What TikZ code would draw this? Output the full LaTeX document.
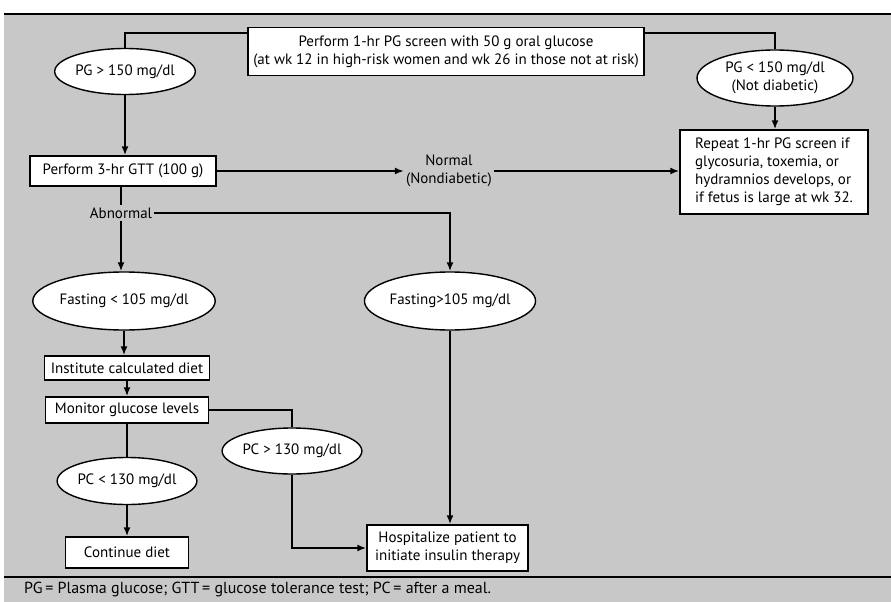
\documentclass[tikz,border=0pt]{standalone}
\usepackage{fontspec}
\setmainfont{PT Sans}
\usetikzlibrary{shapes.geometric,arrows.meta}
\definecolor{bggray}{RGB}{200,200,200}
\begin{document}
\begin{tikzpicture}[x=1pt,y=-1pt,
  every node/.style={font=\fontsize{15}{18}\selectfont},
  box/.style={draw, fill=white, line width=1.4pt, inner sep=0pt, align=center},
  oval/.style={ellipse, draw, fill=white, line width=1.4pt, inner sep=0pt, align=center},
  conn/.style={line width=1.8pt},
  arr/.style={conn, -{Latex[length=9pt,width=7pt]}},
  plain/.style={inner sep=2pt, align=center}]
\useasboundingbox (0,0) rectangle (891,602);
\fill[white] (0,0) rectangle (891,602);
\fill[bggray] (4,14) rectangle (891,602);
\draw[line width=2.4pt] (4,14) -- (891,14);
\draw[line width=2.2pt] (4,577) -- (891,577);

\node[box, minimum width=396pt, minimum height=48pt] (top) at (446,51.5)
  {Perform 1-hr PG screen with 50 g oral glucose\\(at wk 12 in high-risk women and wk 26 in those not at risk)};
\node[oval, minimum width=128pt, minimum height=46pt] (pg150) at (125,71.5) {PG > 150 mg/dl};
\node[oval, minimum width=156pt, minimum height=56pt] (pglt) at (775,78) {PG < 150 mg/dl\\(Not diabetic)};
\node[box, minimum width=186pt, minimum height=30pt] (gtt) at (123,171) {Perform 3-hr GTT (100 g)};
\node[plain] (normal) at (449,171) {Normal\\(Nondiabetic)};
\node[box, minimum width=188pt, minimum height=84pt, align=left] (repeat) at (774,172)
  {Repeat 1-hr PG screen if\\glycosuria, toxemia, or\\hydramnios develops, or\\if fetus is large at wk 32.};
\node[plain] (abn) at (121,213) {Abnormal};
\node[oval, minimum width=157pt, minimum height=58pt] (flt) at (124,301) {Fasting < 105 mg/dl};
\node[oval, minimum width=160pt, minimum height=58pt] (fgt) at (450,301) {Fasting>105 mg/dl};
\node[box, minimum width=165pt, minimum height=24pt] (inst) at (127,368) {Institute calculated diet};
\node[box, minimum width=163pt, minimum height=26pt] (mon) at (127,410) {Monitor glucose levels};
\node[oval, minimum width=128pt, minimum height=46pt] (pcgt) at (292,451) {PC > 130 mg/dl};
\node[oval, minimum width=129pt, minimum height=47pt] (pclt) at (127,481) {PC < 130 mg/dl};
\node[box, minimum width=123pt, minimum height=31pt] (cont) at (127,552.5) {Continue diet};
\node[box, minimum width=161pt, minimum height=46pt] (hosp) at (447.5,548) {Hospitalize patient to\\initiate insulin therapy};
\node[anchor=west, inner sep=0pt, font=\fontsize{16}{18}\selectfont] (foot) at (24,589) {PG\,= Plasma glucose; GTT\,= glucose tolerance test; PC\,= after a meal.};

\draw[conn] ([yshift=-6pt]top.north west) -| (pg150.north);
\draw[conn] ([yshift=-6pt]top.north east) -| (pglt.north);
\draw[arr] (pg150.south) -- (pg150.south |- gtt.north);
\draw[arr] (pglt.south) -- (pglt.south |- repeat.north);
\draw[arr] (gtt.east) -- (normal.west);
\draw[arr] (normal.east) -- (normal.east -| repeat.west);
\draw[conn] (gtt.south -| abn.north) -- (abn.north);
\draw[arr] (abn.south) -- (abn.south |- flt.north);
\draw[arr] (abn.east) -| (fgt.north);
\draw[arr] (flt.south) -- (flt.south |- inst.north);
\draw[arr] (inst.south) -- (inst.south |- mon.north);
\draw[conn] (mon.south) -- (mon.south |- pclt.north);
\draw[arr] (pclt.south) -- (pclt.south |- cont.north);
\draw[conn] (mon.east) -| (pcgt.north);
\draw[arr] (pcgt.south) |- (hosp.west);
\draw[arr] (fgt.south) -- (fgt.south |- hosp.north);
\end{tikzpicture}
\end{document}
